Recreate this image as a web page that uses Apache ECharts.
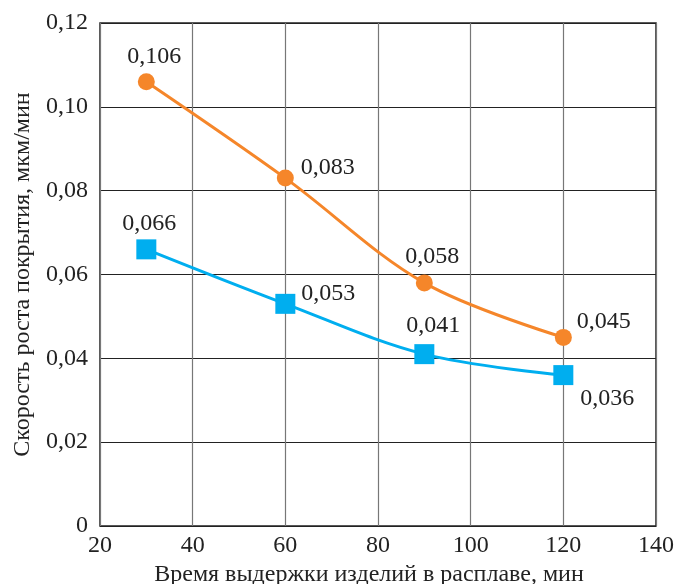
<!DOCTYPE html>
<html><head><meta charset="utf-8">
<script src="https://cdn.jsdelivr.net/npm/echarts@6/dist/echarts.min.js"></script>
<style>html,body{margin:0;padding:0;background:#fff}#c{width:675px;height:584px}</style>
</head><body><div id="c"></div>
<script>
const times = [30, 60, 90, 120];
const orangeValues = [0.106, 0.083, 0.058, 0.045];
const blueValues = [0.066, 0.053, 0.041, 0.036];
const xName = 'Время выдержки изделий в расплаве, мин';
const yName = 'Скорость роста покрытия, мкм/мин';

const fmt = v => String(v).replace('.', ',');
const font = 'Liberation Serif';

const orangeLabelPos = [['top',[8,1]], ['right',[2,-10]], ['top',[8,-1]], ['right',[0,-16]]];
const blueLabelPos = [['top',[3,1]], ['right',[1,-10]], ['top',[9,-1]], ['right',[2,24]]];

function mk(vals, pos) {
  return vals.map((v, i) => ({
    value: [times[i], v],
    label: { position: pos[i][0], offset: pos[i][1] }
  }));
}

const chart = echarts.init(document.getElementById('c'), null, {renderer: 'canvas'});
chart.setOption({
  animation: false,
  grid: { left: 100, right: 19, top: 23, bottom: 58, show: true, borderColor: '#222', borderWidth: 1.5,
    containLabel: false, outerBoundsMode: 'none' },
  xAxis: {
    type: 'value', min: 20, max: 140, interval: 20,
    name: xName, nameLocation: 'middle', nameGap: 33,
    nameTextStyle: { fontFamily: font, fontSize: 24, color: '#222', padding: [0, 18, 0, 0] },
    axisLine: { show: false }, axisTick: { show: false },
    axisLabel: { fontFamily: font, fontSize: 24, color: '#222', margin: 8 },
    splitLine: { show: true, lineStyle: { color: '#777', width: 1.2 } }
  },
  yAxis: {
    type: 'value', min: 0, max: 0.12, interval: 0.02,
    name: yName, nameLocation: 'middle', nameGap: 65,
    nameTextStyle: { fontFamily: font, fontSize: 24, color: '#222' },
    axisLine: { show: false }, axisTick: { show: false },
    axisLabel: { fontFamily: font, fontSize: 24, color: '#222', margin: 12,
      formatter: v => v === 0 ? '0' : v.toFixed(2).replace('.', ',') },
    splitLine: { show: true, lineStyle: { color: '#222', width: 1.2 } }
  },
  series: [
    {
      type: 'line', data: mk(orangeValues, orangeLabelPos), smooth: 0.35,
      symbol: 'circle', symbolSize: 17,
      lineStyle: { color: '#F5862A', width: 3 },
      itemStyle: { color: '#F5862A' },
      label: { show: true, fontFamily: font, fontSize: 24, color: '#222',
        formatter: p => fmt(p.value[1]) },
      z: 3
    },
    {
      type: 'line', data: mk(blueValues, blueLabelPos), smooth: 0.35,
      symbol: 'rect', symbolSize: 20,
      lineStyle: { color: '#00AEEF', width: 3 },
      itemStyle: { color: '#00AEEF' },
      label: { show: true, fontFamily: font, fontSize: 24, color: '#222',
        formatter: p => fmt(p.value[1]) },
      z: 3
    }
  ]
});
</script></body></html>
